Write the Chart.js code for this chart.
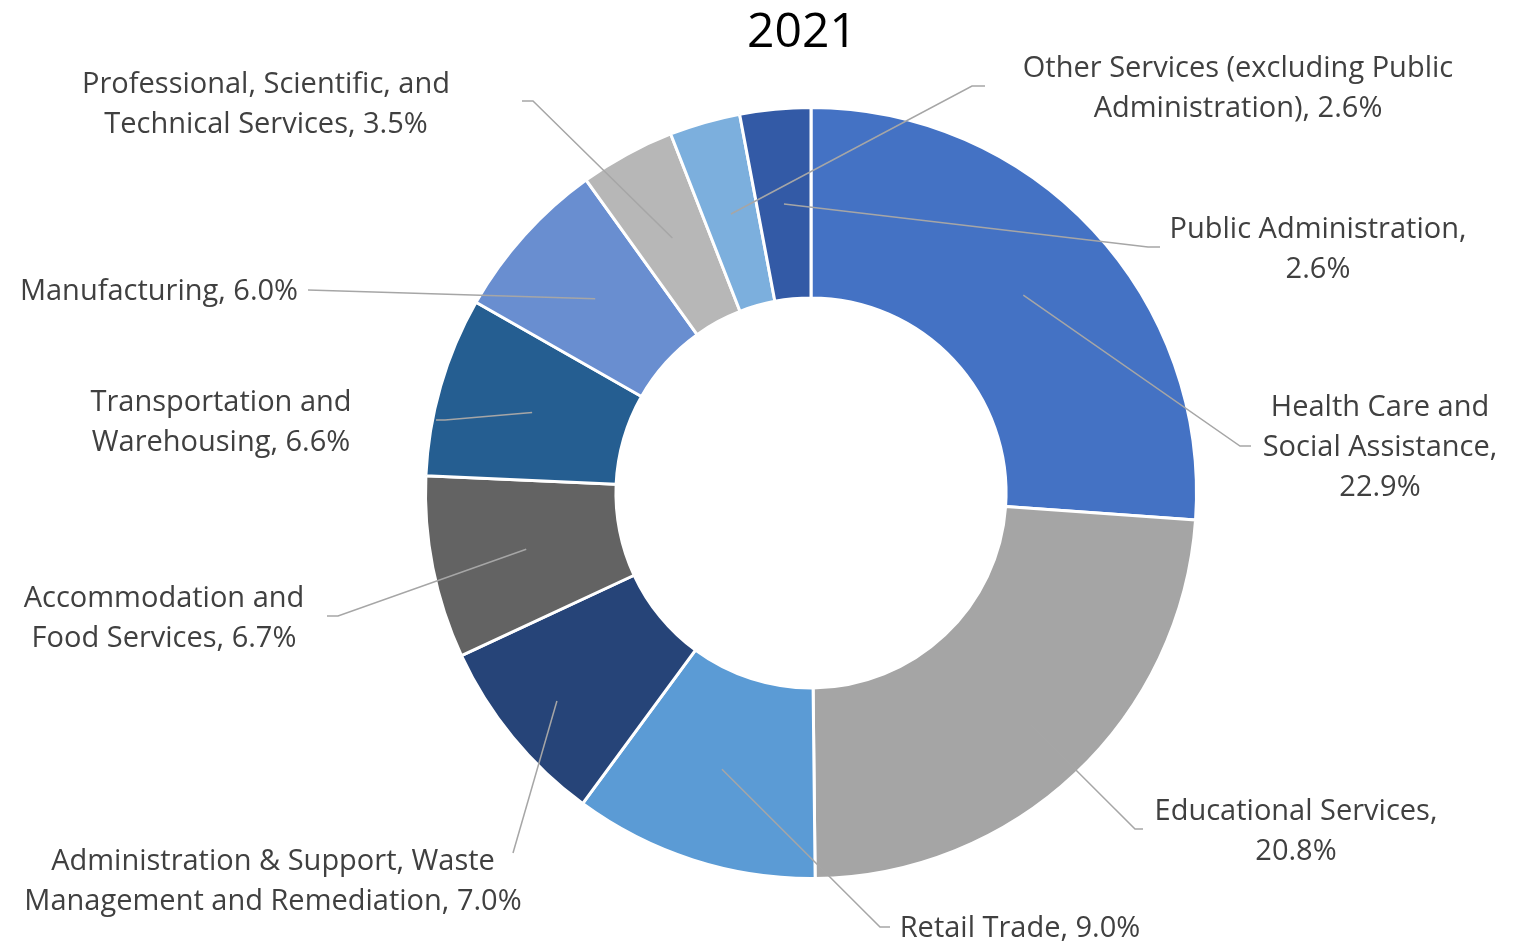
<!DOCTYPE html>
<html>
<head>
<meta charset="utf-8">
<script src="https://cdn.jsdelivr.net/npm/chart.js@4/dist/chart.umd.min.js"></script>
<style>
  html, body { margin: 0; padding: 0; background: #fff; }
  #wrap { width: 1514px; height: 942px; }
</style>
</head>
<body>
<div id="wrap"><canvas id="industryChart"></canvas></div>
<script>
const chartTitle = "2021";
const industries = [
  "Health Care and Social Assistance",
  "Educational Services",
  "Retail Trade",
  "Administration & Support, Waste Management and Remediation",
  "Accommodation and Food Services",
  "Transportation and Warehousing",
  "Manufacturing",
  "Professional, Scientific, and Technical Services",
  "Other Services (excluding Public Administration)",
  "Public Administration"
];
const shares = [22.9, 20.8, 9.0, 7.0, 6.7, 6.6, 6.0, 3.5, 2.6, 2.6];
const sliceColors = [
  "#4472C4", "#A5A5A5", "#5B9BD5", "#264478", "#636363",
  "#255E91", "#698ED0", "#B7B7B7", "#7CAFDD", "#335AA6"
];

// where each callout sits: words per line, text centre, first line row, leader bend points
// ring = where across the slice thickness the leader starts (0.5 = middle)
const calloutLayout = [
  { words: [3, 2, 1], x: 1380, y: 408, path: [[1240, 446], [1251, 446]] },
  { words: [2, 1],    x: 1296, y: 812, path: [[1135, 829], [1143, 829]] },
  { words: [3],       x: 1020, y: 929, path: [[880, 927], [890, 927]] },
  { words: [4, 4],    x: 273,  y: 862, path: [[513, 853]], ring: 0.7 },
  { words: [2, 3],    x: 164,  y: 599, path: [[338, 616], [327, 616]] },
  { words: [2, 2],    x: 221,  y: 403, path: [[445, 420], [436, 420]] },
  { words: [2],       x: 159,  y: 292, path: [[308, 290]] },
  { words: [3, 3],    x: 266,  y: 85,  path: [[533, 101], [522, 101]] },
  { words: [4, 2],    x: 1238, y: 69,  path: [[972, 86], [985, 86]] },
  { words: [2, 1],    x: 1318, y: 230, path: [[1148, 247], [1160, 247]] }
];

function splitLines(text, counts) {
  const words = text.split(" ");
  const lines = [];
  let i = 0;
  counts.forEach(n => { lines.push(words.slice(i, i + n).join(" ")); i += n; });
  return lines;
}

const calloutPlugin = {
  id: "callouts",
  afterDatasetsDraw(chart) {
    const ctx = chart.ctx;
    const arcs = chart.getDatasetMeta(0).data;
    ctx.save();
    // leader lines start inside each slice, along its middle angle
    ctx.strokeStyle = "#A6A6A6";
    ctx.lineWidth = 1.5;
    arcs.forEach((arc, i) => {
      const lay = calloutLayout[i];
      const p = arc.getProps(["x", "y", "startAngle", "endAngle", "innerRadius", "outerRadius"], true);
      const mid = (p.startAngle + p.endAngle) / 2;
      const r = p.innerRadius + (lay.ring ?? 0.5) * (p.outerRadius - p.innerRadius);
      ctx.beginPath();
      ctx.moveTo(p.x + Math.cos(mid) * r, p.y + Math.sin(mid) * r);
      lay.path.forEach(q => ctx.lineTo(q[0], q[1]));
      ctx.stroke();
    });
    // label text
    ctx.fillStyle = "#404040";
    ctx.font = "29px 'Open Sans'";
    ctx.textAlign = "center";
    ctx.textBaseline = "middle";
    industries.forEach((name, i) => {
      const lay = calloutLayout[i];
      const text = name + ", " + shares[i].toFixed(1) + "%";
      splitLines(text, lay.words).forEach((line, k) => {
        ctx.fillText(line, lay.x, lay.y + k * 40);
      });
    });
    // title
    ctx.fillStyle = "#000000";
    ctx.font = "48px 'Open Sans'";
    ctx.fillText(chartTitle, 802, 33);
    ctx.restore();
  }
};

new Chart(document.getElementById("industryChart"), {
  type: "doughnut",
  data: {
    labels: industries,
    datasets: [{
      data: shares,
      backgroundColor: sliceColors,
      borderColor: "#ffffff",
      borderWidth: 3
    }]
  },
  options: {
    responsive: true,
    maintainAspectRatio: false,
    animation: false,
    cutout: "50.6%",
    layout: { padding: { top: 106, bottom: 62, left: 108, right: 0 } },
    plugins: {
      legend: { display: false },
      tooltip: { enabled: false },
      title: { display: false }
    }
  },
  plugins: [calloutPlugin]
});
</script>
</body>
</html>
